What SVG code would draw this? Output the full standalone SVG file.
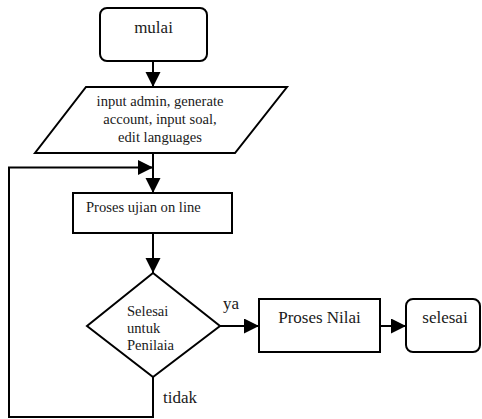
<svg xmlns="http://www.w3.org/2000/svg" width="482" height="419" viewBox="0 0 482 419">
<defs>
<marker id="a" markerUnits="userSpaceOnUse" markerWidth="16" markerHeight="16" refX="15" refY="7.5" orient="auto">
<path d="M0,0 L15,7.5 L0,15 Z" fill="#000"/>
</marker>
</defs>
<rect width="482" height="419" fill="#fff"/>
<g id="connectors" fill="none" stroke="#000" stroke-width="2">
<path d="M153,61 V87" marker-end="url(#a)"/>
<path d="M153,153 V193" marker-end="url(#a)"/>
<path d="M153,233 V273" marker-end="url(#a)"/>
<path d="M220,326 H259" marker-end="url(#a)"/>
<path d="M380,326 H406" marker-end="url(#a)"/>
<path d="M153,377 V417 H9 V167.5 H153" marker-end="url(#a)"/>
</g>
<g id="labels">
<text style="font-family:'Liberation Serif',serif;font-size:17px;fill:#1a1a1a" x="223" y="309">ya</text>
<text style="font-family:'Liberation Serif',serif;font-size:17px;fill:#1a1a1a" x="163" y="403">tidak</text>
</g>
<g id="mulai">
<rect fill="#fff" stroke="#000" stroke-width="2" x="100" y="8" width="107" height="53" rx="7"/>
<text style="font-family:'Liberation Serif',serif;font-size:17px;fill:#1a1a1a" x="153.5" y="33" text-anchor="middle">mulai</text>
</g>
<g id="input">
<polygon fill="#fff" stroke="#000" stroke-width="2" points="86,87 287,87 235,153 35,153"/>
<text style="font-family:'Liberation Serif',serif;font-size:14.6px;fill:#1a1a1a" x="160" y="106" text-anchor="middle">input admin, generate</text>
<text style="font-family:'Liberation Serif',serif;font-size:14.6px;fill:#1a1a1a" x="160" y="124" text-anchor="middle">account, input soal,</text>
<text style="font-family:'Liberation Serif',serif;font-size:14.6px;fill:#1a1a1a" x="160" y="142" text-anchor="middle">edit languages</text>
</g>
<g id="proses-ujian">
<rect fill="#fff" stroke="#000" stroke-width="2" x="73" y="193" width="159" height="40"/>
<text style="font-family:'Liberation Serif',serif;font-size:14.6px;fill:#1a1a1a" x="86" y="212">Proses ujian on line</text>
</g>
<g id="keputusan">
<polygon fill="#fff" stroke="#000" stroke-width="2" points="153,273 220,326 153,377 87,326"/>
<text style="font-family:'Liberation Serif',serif;font-size:14.6px;fill:#1a1a1a" x="127" y="316">Selesai</text>
<text style="font-family:'Liberation Serif',serif;font-size:14.6px;fill:#1a1a1a" x="127" y="333">untuk</text>
<text style="font-family:'Liberation Serif',serif;font-size:14.6px;fill:#1a1a1a" x="127" y="350">Penilaia</text>
</g>
<g id="proses-nilai">
<rect fill="#fff" stroke="#000" stroke-width="2" x="259" y="299" width="121" height="53"/>
<text style="font-family:'Liberation Serif',serif;font-size:17px;fill:#1a1a1a" x="319.5" y="323" text-anchor="middle">Proses Nilai</text>
</g>
<g id="selesai">
<rect fill="#fff" stroke="#000" stroke-width="2" x="406" y="299" width="74" height="53" rx="7"/>
<text style="font-family:'Liberation Serif',serif;font-size:17px;fill:#1a1a1a" x="445" y="323" text-anchor="middle">selesai</text>
</g>
</svg>
